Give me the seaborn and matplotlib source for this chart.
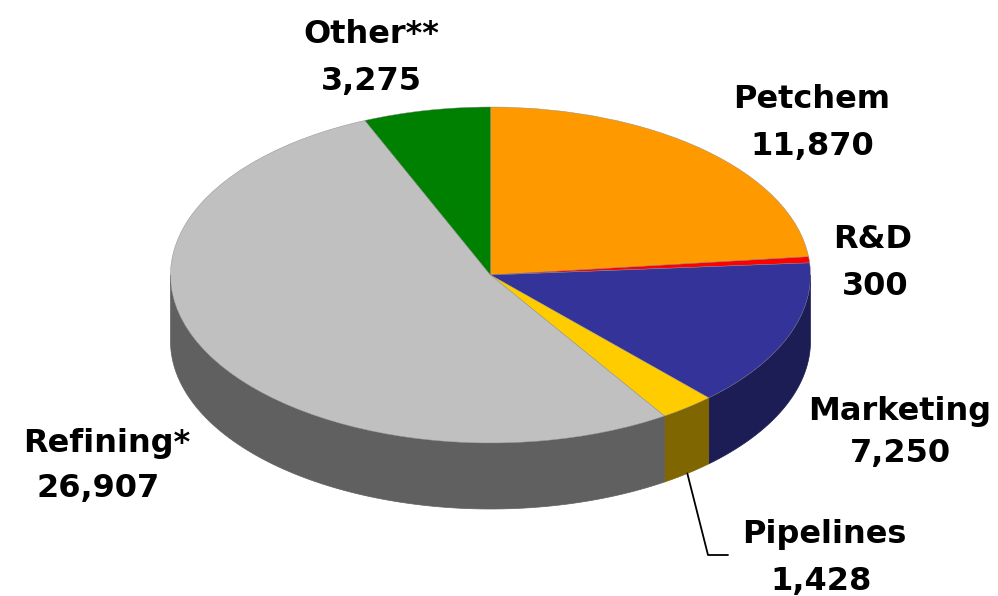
import matplotlib
matplotlib.use("Agg")
import matplotlib.pyplot as plt
import numpy as np
import seaborn as sns
from matplotlib.patches import Polygon

# data
segments = ['Petchem', 'R&D', 'Marketing', 'Pipelines', 'Refining*', 'Other**']
values = [11870, 300, 7250, 1428, 26907, 3275]
value_labels = ['11,870', '300', '7,250', '1,428', '26,907', '3,275']
top_colors = ['#FF9900', '#FF0000', '#333399', '#FFCC00', '#C0C0C0', '#008000']
side_colors = ['#804C00', '#800000', '#1D1D55', '#806600', '#606060', '#004000']

sns.set_theme(style="white")
plt.rcParams['font.family'] = ['DejaVu Sans']

W, H = 998, 596
fig = plt.figure(figsize=(W / 100, H / 100), dpi=100)
ax = fig.add_axes([0, 0, 1, 1])

# pie geometry in pixels
cx, cy, rx, ry, depth_px = 490.5, 275, 320, 168, 66
depth = depth_px / ry

wedges, _ = ax.pie(values, colors=top_colors, startangle=90, counterclock=False,
                   wedgeprops=dict(linewidth=0.3, edgecolor='#888888'))
for w in wedges:
    w.set_zorder(3)

# side walls: only the front half (sin < 0) is visible
for w, sc in zip(wedges, side_colors):
    for k in (-360, 0):
        lo = max(w.theta1, 180 + k)
        hi = min(w.theta2, 360 + k)
        if hi <= lo:
            continue
        t = np.radians(np.linspace(lo, hi, 120))
        top = np.column_stack([np.cos(t), np.sin(t)])
        bot = np.column_stack([np.cos(t[::-1]), np.sin(t[::-1]) - depth])
        ax.add_patch(Polygon(np.vstack([top, bot]), closed=True,
                             facecolor=sc, edgecolor=sc, linewidth=0.5, zorder=2))

ax.set_aspect('auto')
ax.set_xlim(-cx / rx, (W - cx) / rx)
ax.set_ylim((cy - H) / ry, cy / ry)
ax.axis('off')

# labels: (center x, baseline y) in pixels for name and value lines
label_pos = {
    'Petchem': ((812, 108), (812, 155)),
    'R&D': ((873, 248), (875, 295)),
    'Marketing': ((900, 420), (900, 462)),
    'Pipelines': ((824, 543), (821, 590)),
    'Refining*': ((107, 452), (98, 497)),
    'Other**': ((371, 43), (371, 90)),
}
for name, vlab in zip(segments, value_labels):
    (nx, ny), (vx, vy) = label_pos[name]
    fig.text(nx / W, 1 - ny / H, name, ha='center', va='baseline',
             fontsize=23, fontweight='bold', color='black')
    fig.text(vx / W, 1 - vy / H, vlab, ha='center', va='baseline',
             fontsize=23, fontweight='bold', color='black')

# leader line for Pipelines from the bottom of its side wall
pw = wedges[segments.index('Pipelines')]
mid = np.radians((pw.theta1 + pw.theta2) / 2)
x0, y0 = np.cos(mid), np.sin(mid) - depth
x1, y1 = (708 - cx) / rx, (cy - 555) / ry
x2 = (728 - cx) / rx
ax.plot([x0, x1, x2], [y0, y1, y1], color='black', linewidth=1.3, zorder=4)

plt.savefig('out.png', dpi=100)
